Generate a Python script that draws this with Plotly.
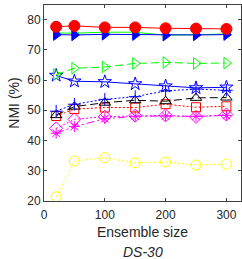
import plotly.graph_objects as go

ensemble_sizes = [20, 50, 100, 150, 200, 250, 300]

red_circle = [77.6, 77.9, 77.4, 77.4, 77.1, 77.0, 76.9]
green_solid = [75.5, 75.5, 75.8, 75.8, 74.8, 75.0, 75.2]
blue_triangle = [75.0, 74.9, 75.1, 75.0, 74.8, 74.9, 75.0]
green_dashed = [61.8, 63.9, 64.3, 65.5, 65.8, 65.5, 65.6]
blue_star = [61.5, 59.6, 59.4, 58.7, 58.0, 57.4, 57.6]
blue_plus = [49.7, 52.0, 53.6, 54.5, 56.4, 57.0, 56.6]
black_triangle = [48.4, 51.2, 52.5, 53.3, 53.0, 54.1, 54.2]
red_square = [48.1, 50.4, 50.9, 50.9, 52.0, 51.0, 51.3]
magenta_diamond = [44.0, 47.0, 47.9, 48.2, 48.3, 47.8, 48.6]
magenta_asterisk = [42.4, 44.6, 47.2, 48.0, 48.1, 48.0, 48.3]
yellow_circle = [21.4, 33.2, 34.3, 32.6, 32.9, 31.9, 32.2]

x_ticks = [0, 100, 200, 300]
y_ticks = [20, 30, 40, 50, 60, 70, 80]

series = [
    (yellow_circle, "#ffff00", "2px,2px", "circle-open", 10),
    (magenta_asterisk, "#ff00ff", "8px,3px,2px,3px", "asterisk-open", 9),
    (magenta_diamond, "#ff00ff", "2px,2px", "diamond-open", 10),
    (red_square, "#ff0000", "2px,2px", "square-open", 9),
    (black_triangle, "#000000", "8px,4px", "triangle-up-open", 10),
    (blue_plus, "#0000ff", "2px,2px", "cross-thin-open", 9),
    (blue_star, "#0000ff", "solid", "star-open", 10),
    (green_dashed, "#00ff00", "8px,4px", "triangle-right-open", 10),
    (green_solid, "#00ff00", "solid", "triangle-right", 9),
    (blue_triangle, "#0000ff", "solid", "triangle-right", 10),
    (red_circle, "#ff0000", "solid", "circle", 11),
]

fig = go.Figure()
for ys, color, dash, sym, size in series:
    fig.add_trace(go.Scatter(
        x=ensemble_sizes, y=ys, mode="lines+markers",
        line=dict(color=color, width=1, dash=dash),
        marker=dict(symbol=sym, size=size,
                    color=color,
                    line=dict(color=color, width=1)),
        showlegend=False,
    ))

axis_common = dict(
    showgrid=False, zeroline=False, showline=True, mirror="allticks",
    linecolor="#404040", linewidth=1, ticks="inside", ticklen=3,
    tickcolor="#404040", tickfont=dict(family="Liberation Sans, Arial", size=12, color="#262626"),
)

fig.update_layout(
    width=242, height=259,
    margin=dict(l=44, r=1, t=5, b=58),
    paper_bgcolor="white", plot_bgcolor="white",
    xaxis=dict(range=[0, 324], tickvals=x_ticks, ticklabelstandoff=3,
               title=dict(text="Ensemble size", standoff=5,
                          font=dict(family="Liberation Sans, Arial", size=14, color="#262626")),
               **axis_common),
    yaxis=dict(range=[20, 84.8], tickvals=y_ticks,
               title=dict(text="NMI (%)", standoff=4,
                          font=dict(family="Liberation Sans, Arial", size=14, color="#262626")),
               **axis_common),
    annotations=[dict(text="<i>DS-30</i>", x=0.5, y=-0.258, xref="paper", yref="paper",
                      xanchor="center", yanchor="middle", showarrow=False,
                      font=dict(family="Liberation Sans, Arial", size=14, color="#262626"))],
)

fig.write_html("out.html", config={"displayModeBar": False},
               post_script="document.body.style.margin='0';document.body.style.overflow='hidden';")
